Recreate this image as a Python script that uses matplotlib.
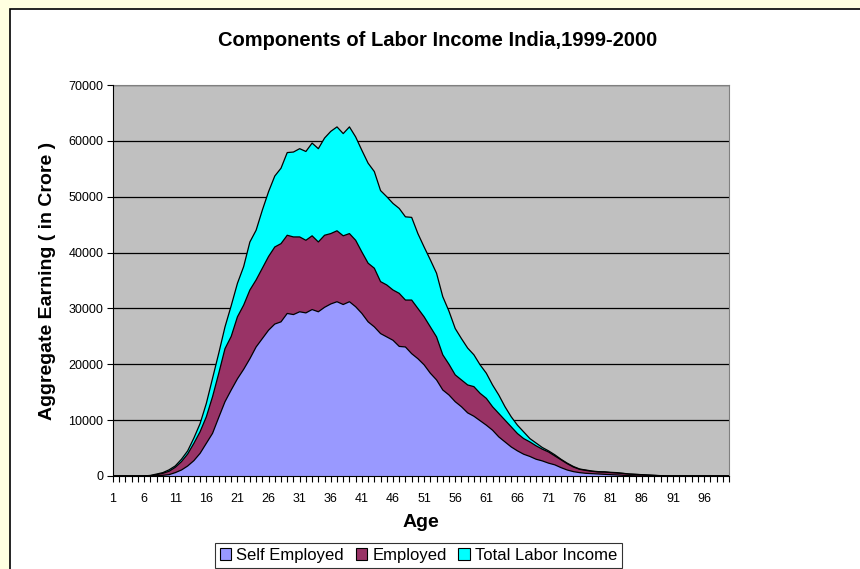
import numpy as np
import matplotlib.pyplot as plt
from matplotlib.patches import Rectangle, Patch

plt.rcParams['font.family'] = ['Liberation Sans', 'DejaVu Sans']

ages = list(range(1, 101))

# curve heights, ages 1..100
total_labor = [0, 0, 0, 0, 0, 20, 100, 350, 600, 1100,
               1800, 3000, 4500, 6800, 9400, 13000, 17500, 22000, 26700, 30500,
               34500, 37500, 41900, 44000, 47600, 50900, 53700, 55100, 57900, 58000,
               58600, 58100, 59600, 58600, 60500, 61700, 62500, 61300, 62500, 60700,
               58300, 56000, 54500, 51100, 50000, 48800, 47900, 46400, 46300, 43400,
               41000, 38700, 36300, 32100, 29500, 26400, 24600, 22900, 21700, 19900,
               18400, 16300, 14500, 12400, 10600, 9100, 7900, 6700, 5900, 5100,
               4500, 3800, 3000, 2300, 1700, 1250, 1070, 890, 780, 750,
               660, 600, 480, 360, 300, 240, 180, 120, 60, 0,
               0, 0, 0, 0, 0, 0, 0, 0, 0, 0]
employed = [0, 0, 0, 0, 0, 0, 50, 240, 480, 840,
            1550, 2570, 3940, 5850, 7940, 10600, 14200, 18400, 22800, 25000,
            28500, 30600, 33300, 35100, 37200, 39300, 41000, 41600, 43100, 42800,
            42800, 42200, 43000, 41900, 43100, 43400, 43900, 43000, 43400, 42200,
            40100, 38100, 37200, 34800, 34200, 33300, 32700, 31500, 31500, 30000,
            28500, 26700, 24900, 21700, 20000, 18100, 17200, 16300, 16000, 14800,
            13900, 12400, 11200, 10000, 8800, 7600, 6700, 6100, 5400, 4800,
            4300, 3600, 2900, 2200, 1600, 1200, 1000, 830, 720, 700,
            600, 540, 450, 340, 280, 220, 160, 100, 50, 0,
            0, 0, 0, 0, 0, 0, 0, 0, 0, 0]
self_employed = [0, 0, 0, 0, 0, 0, 0, 50, 120, 240,
                 600, 1070, 1790, 2750, 4060, 5850, 7640, 10500, 13300, 15400,
                 17400, 19100, 21000, 23100, 24600, 26100, 27200, 27600, 29100, 28900,
                 29400, 29200, 29800, 29400, 30200, 30800, 31200, 30700, 31200, 30300,
                 29100, 27600, 26700, 25500, 24900, 24300, 23200, 23100, 21900, 21000,
                 19900, 18400, 17200, 15400, 14500, 13300, 12400, 11300, 10700, 9900,
                 9100, 8200, 7000, 6100, 5200, 4500, 3900, 3500, 3000, 2700,
                 2300, 2000, 1500, 1070, 780, 600, 480, 420, 360, 300,
                 240, 180, 120, 60, 30, 0, 0, 0, 0, 0,
                 0, 0, 0, 0, 0, 0, 0, 0, 0, 0]

series_names = ['Self Employed', 'Employed', 'Total Labor Income']
series_colors = ['#9999FF', '#993366', '#00FFFF']

fig = plt.figure(figsize=(8.6, 5.69), dpi=100)
fig.patch.set_facecolor('#FFFFE0')
# white chart area with black frame (runs off right/bottom edge)
fig.patches.append(Rectangle((10 / 860, -0.05), 1.0, 1 - 9 / 569 + 0.05,
                             transform=fig.transFigure, facecolor='white',
                             edgecolor='black', linewidth=1.2, zorder=-5))

ax = fig.add_axes([113 / 860, 1 - 476 / 569, 616 / 860, 391 / 569])
ax.set_zorder(2)
ax.set_facecolor('#C0C0C0')

# back to front: total, employed, self employed
for vals, col in zip([total_labor, employed, self_employed], series_colors[::-1]):
    ax.fill_between(ages, 0, vals, facecolor=col, edgecolor='none', zorder=2)
    ax.plot(ages, vals, color='black', linewidth=0.9, zorder=3)

ax.set_xlim(1, 100)
ax.set_ylim(0, 70000)
ax.set_yticks(np.arange(0, 70001, 10000))
ax.yaxis.grid(True, color='black', linewidth=0.9)
ax.set_axisbelow(True)
ax.set_xticks(ages)
ax.set_xticklabels([str(a) if (a - 1) % 5 == 0 else '' for a in ages])
ax.tick_params(axis='x', length=4, width=0.8, labelsize=9, pad=8)
ax.tick_params(axis='y', length=4, width=0.8, labelsize=9, pad=3)

for s in ['top', 'right']:
    ax.spines[s].set_color('#808080')
for s in ['left', 'bottom']:
    ax.spines[s].set_color('black')
    ax.spines[s].set_zorder(4)

ax.set_xlabel('Age', fontsize=14, fontweight='bold', labelpad=7)
ax.set_ylabel('Aggregate Earning ( in Crore )', fontsize=14, fontweight='bold', labelpad=9)
fig.text(438 / 860, 1 - 40 / 569, 'Components of Labor Income India,1999-2000',
         ha='center', va='center', fontsize=14.5, fontweight='bold')

handles = [Patch(facecolor=c, edgecolor='black', linewidth=0.8) for c in series_colors]
leg = fig.legend(handles, series_names, loc='upper center', ncol=3,
                 bbox_to_anchor=(418.5 / 860, 1 - 543 / 569), fontsize=12,
                 frameon=True, fancybox=False, edgecolor='black',
                 handlelength=0.7, handleheight=0.7, handletextpad=0.3,
                 columnspacing=0.7, borderpad=0.3, borderaxespad=0)
leg.get_frame().set_linewidth(0.8)

fig.savefig('out.png', dpi=100)
